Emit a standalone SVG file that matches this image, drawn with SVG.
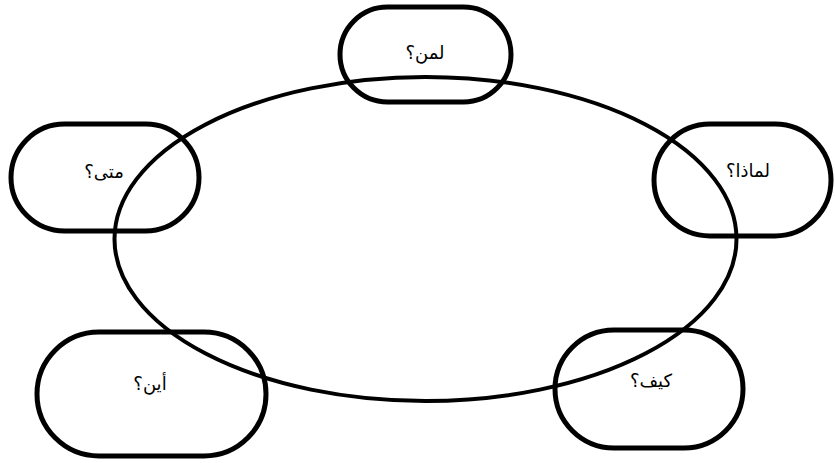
<svg xmlns="http://www.w3.org/2000/svg" width="835" height="463" viewBox="0 0 835 463">
<style>
.n{fill:none;stroke:#000;stroke-width:5}
.c{fill:none;stroke:#000;stroke-width:4}
text{font-family:"DejaVu Sans","Noto Sans",sans-serif;font-size:18px;fill:#000;text-anchor:middle;dominant-baseline:central}
</style>
<rect width="835" height="463" fill="#fff"/>
<g id="connectors">
<ellipse class="c" cx="425.5" cy="239" rx="311" ry="162"/>
</g>
<g id="n-who"><rect class="n" x="340" y="7" width="171" height="95" rx="47.5"/><text x="425" y="52" direction="rtl">لمن؟</text></g>
<g id="n-when"><rect class="n" x="11" y="124" width="188" height="107" rx="53.5"/><text x="104" y="171" direction="rtl">متى؟</text></g>
<g id="n-why"><rect class="n" x="654" y="124" width="177" height="112" rx="56"/><text x="748" y="170" direction="rtl">لماذا؟</text></g>
<g id="n-where"><rect class="n" x="37" y="332" width="229" height="124" rx="62"/><text x="150" y="383" direction="rtl">أين؟</text></g>
<g id="n-how"><rect class="n" x="555" y="330" width="188" height="118" rx="59"/><text x="651" y="380" direction="rtl">كيف؟</text></g>
</svg>
